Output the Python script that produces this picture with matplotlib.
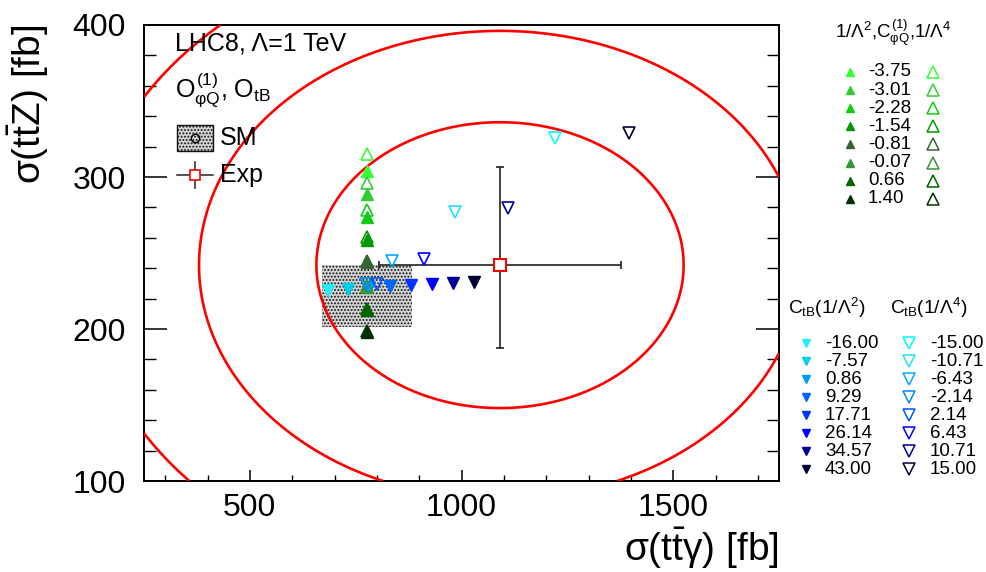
import numpy as np
import matplotlib
matplotlib.use("Agg")
import matplotlib.pyplot as plt
from matplotlib.patches import Rectangle
from matplotlib.lines import Line2D

plt.rcParams['font.family'] = ['Liberation Sans', 'DejaVu Sans']
plt.rcParams['mathtext.fontset'] = 'custom'
plt.rcParams['mathtext.rm'] = 'Liberation Sans'
plt.rcParams['mathtext.it'] = 'Liberation Sans'
plt.rcParams['mathtext.bf'] = 'Liberation Sans:bold'
plt.rcParams['mathtext.sf'] = 'Liberation Sans'
plt.rcParams['hatch.linewidth'] = 0.9

# ---------------- data ----------------
# C_phiQ^(1) scan (vertical column at SM sigma(tt gamma))
cphiq_vals = [-3.75, -3.01, -2.28, -1.54, -0.81, -0.07, 0.66, 1.40]
cphiq_labels = ["-3.75", "-3.01", "-2.28", "-1.54", "-0.81", "-0.07", "0.66", "1.40"]
cphiq_tta = [777, 777, 777, 777, 777, 777, 777, 777]
cphiq_ttz_lin = [304.1, 288.8, 273.5, 258.6, 243.9, 227.8, 212.5, 198.2]
cphiq_ttz_quad = [315.1, 295.8, 278.3, 260.3, 244.5, 228.3, 213.0, 199.0]
green_colors = ['#33ff33', '#33cc33', '#11cc11', '#009900', '#336633',
                '#339933', '#006600', '#003300']

# C_tB scan, 1/Lambda^2
ctb_lin_labels = ["-16.00", "-7.57", "0.86", "9.29", "17.71", "26.14", "34.57", "43.00"]
ctb_lin_tta = [684, 733, 782, 830, 881, 931, 980, 1029]
ctb_lin_ttz = [225.7, 226.1, 227.5, 228.5, 229.0, 229.6, 230.5, 231.1]
blue_colors_lin = ['#22eeff', '#00ccee', '#0099ff', '#0066ff', '#0033ff',
                   '#0000ff', '#000099', '#000033']

# C_tB scan, 1/Lambda^4
ctb_quad_labels = ["-15.00", "-10.71", "-6.43", "-2.14", "2.14", "6.43", "10.71", "15.00"]
ctb_quad_tta = [1221, 985, 837, 775, 800, 912, 1111, 1396]
ctb_quad_ttz = [325.9, 277.0, 245.0, 229.6, 229.6, 246.0, 279.4, 328.7]
blue_colors_quad = ['#00ffff', '#22ddff', '#00aaff', '#0088ff', '#0055ff',
                    '#0000ff', '#000099', '#000033']

# SM prediction and band
sm_tta, sm_ttz = 777, 227
sm_band_tta = [670, 882]
sm_band_ttz = [201.5, 242]

# Experimental measurement
exp_tta, exp_ttz = 1091, 242
exp_tta_err = [286, 286]
exp_ttz_err = [54.5, 64.8]
exp_sigma = [286, 62]          # widths used for chi2 contours
chi2_levels = [2.30, 6.18, 11.83]

xticks_major = [500, 1000, 1500]
yticks_major = [100, 200, 300, 400]

# ---------------- figure ----------------
W, H = 986, 572
fig = plt.figure(figsize=(W / 100, H / 100), dpi=100)
L, R, T, B = 144, 779, 25, 481
ax = fig.add_axes([L / W, 1 - B / H, (R - L) / W, (B - T) / H])
ax.set_xlim(250, 1750)
ax.set_ylim(100, 400)


def fx(px):
    return px / W


def fy(py):
    return 1 - py / H


# SM band
ax.add_patch(Rectangle((sm_band_tta[0], sm_band_ttz[0]),
                       sm_band_tta[1] - sm_band_tta[0],
                       sm_band_ttz[1] - sm_band_ttz[0],
                       facecolor='#d4d4d4', edgecolor='#111111', hatch='.....',
                       linewidth=0, zorder=1))
ax.plot([sm_tta], [sm_ttz], 'o', mfc='none', mec='black', ms=6, zorder=2)

# chi2 contours
gx = np.linspace(250, 1750, 600)
gy = np.linspace(100, 400, 600)
GX, GY = np.meshgrid(gx, gy)
chi2 = ((GX - exp_tta) / exp_sigma[0]) ** 2 + ((GY - exp_ttz) / exp_sigma[1]) ** 2
ax.contour(GX, GY, chi2, levels=chi2_levels, colors='red', linewidths=1.9, zorder=3)

# Exp point
ax.errorbar([exp_tta], [exp_ttz],
            xerr=[[exp_tta_err[0]], [exp_tta_err[1]]],
            yerr=[[exp_ttz_err[0]], [exp_ttz_err[1]]],
            fmt='none', ecolor='#222222', elinewidth=1.2, capsize=3, capthick=1.2, zorder=4)
ax.plot([exp_tta], [exp_ttz], 's', mfc='white', mec='red', ms=8, mew=1.5, zorder=5)

# markers
for i in range(len(cphiq_vals)):
    c = green_colors[i]
    ax.plot([cphiq_tta[i]], [cphiq_ttz_lin[i]], '^', color=c, ms=8, mec=c, zorder=6)
    ax.plot([cphiq_tta[i]], [cphiq_ttz_quad[i]], '^', mfc='none', mec=c, ms=8.5,
            mew=1.2, zorder=7)
for i in range(len(ctb_lin_tta)):
    c = blue_colors_lin[i]
    ax.plot([ctb_lin_tta[i]], [ctb_lin_ttz[i]], 'v', color=c, mec=c, ms=8, zorder=6)
for i in range(len(ctb_quad_tta)):
    c = blue_colors_quad[i]
    ax.plot([ctb_quad_tta[i]], [ctb_quad_ttz[i]], 'v', mfc='none', mec=c, ms=8.5,
            mew=1.2, zorder=7)

# axes styling (ROOT-like)
for s in ax.spines.values():
    s.set_linewidth(1.4)
ax.set_xticks(xticks_major)
ax.set_xticks(np.arange(300, 1750, 100), minor=True)
ax.set_yticks(yticks_major)
ax.set_yticks(np.arange(100, 401, 20), minor=True)
ax.tick_params(axis='x', which='major', direction='in', length=8, width=1.1,
               labelsize=23, pad=9, top=False)
ax.tick_params(axis='x', which='minor', direction='in', length=4.3, width=1.0, top=False)
ax.tick_params(axis='y', which='major', direction='in', length=16.5, width=1.1,
               labelsize=23, pad=13, right=True)
ax.tick_params(axis='y', which='minor', direction='in', length=8.5, width=1.0, right=True)

# axis titles
fig.text(fx(779), fy(548), r'$\sigma(t\bar{t}\gamma)$ [fb]', ha='right', va='center',
         fontsize=28)
fig.text(fx(28), fy(25), r'$\sigma(t\bar{t}Z)$ [fb]', ha='center', va='top',
         rotation=90, fontsize=28)

# top-left legend
fig.text(fx(175), fy(44), 'LHC8, \u039b=1 TeV', ha='left', va='center', fontsize=18)
fig.text(fx(175), fy(98), r'$O^{(1)}_{\varphi Q}$, $O_{tB}$', ha='left', va='baseline',
         fontsize=18)
fig.patches.append(Rectangle((fx(177), fy(151)), fx(213) - fx(177), fy(125) - fy(151),
                             transform=fig.transFigure, facecolor='#d4d4d4',
                             edgecolor='#111111', hatch='.....', linewidth=1.0))
fig.add_artist(Line2D([fx(195)], [fy(138)], marker='o', mfc='none', mec='black', ms=6,
                      transform=fig.transFigure))
fig.text(fx(220), fy(138), 'SM', ha='left', va='center', fontsize=18)
fig.add_artist(Line2D([fx(177), fx(213)], [fy(175), fy(175)], color='#222222', lw=1.1,
                      transform=fig.transFigure))
fig.add_artist(Line2D([fx(195), fx(195)], [fy(162), fy(188)], color='#222222', lw=1.1,
                      transform=fig.transFigure))
fig.add_artist(Line2D([fx(195)], [fy(175)], marker='s', mfc='white', mec='red', ms=7,
                      mew=1.2, transform=fig.transFigure))
fig.text(fx(220), fy(175), 'Exp', ha='left', va='center', fontsize=18)

# right legend: C_phiQ
fig.text(fx(893), fy(33), r'$1/\Lambda^{2}$,$C^{(1)}_{\varphi Q}$,$1/\Lambda^{4}$',
         ha='center', va='center', fontsize=13.5)
for i in range(len(cphiq_labels)):
    yy = 72 + 18.1 * i
    c = green_colors[i]
    fig.add_artist(Line2D([fx(850)], [fy(yy)], marker='^', color=c, mec=c, ms=5.5,
                          transform=fig.transFigure))
    fig.text(fx(868), fy(yy), cphiq_labels[i], ha='left', va='center', fontsize=13.5)
    fig.add_artist(Line2D([fx(933)], [fy(yy)], marker='^', mfc='none', mec=c, ms=8,
                          mew=1.1, transform=fig.transFigure))

# right legend: C_tB
fig.text(fx(788), fy(308), r'$C_{tB}(1/\Lambda^{2})$', ha='left', va='center',
         fontsize=13.8)
fig.text(fx(890), fy(308), r'$C_{tB}(1/\Lambda^{4})$', ha='left', va='center',
         fontsize=13.8)
for i in range(len(ctb_lin_labels)):
    yy = 343 + 18 * i
    c1 = blue_colors_lin[i]
    c2 = blue_colors_quad[i]
    fig.add_artist(Line2D([fx(806)], [fy(yy)], marker='v', color=c1, mec=c1, ms=5.5,
                          transform=fig.transFigure))
    fig.text(fx(825), fy(yy), ctb_lin_labels[i], ha='left', va='center', fontsize=13.5)
    fig.add_artist(Line2D([fx(909)], [fy(yy)], marker='v', mfc='none', mec=c2, ms=8,
                          mew=1.1, transform=fig.transFigure))
    fig.text(fx(930), fy(yy), ctb_quad_labels[i], ha='left', va='center', fontsize=13.5)

fig.savefig('out.png', dpi=100)
